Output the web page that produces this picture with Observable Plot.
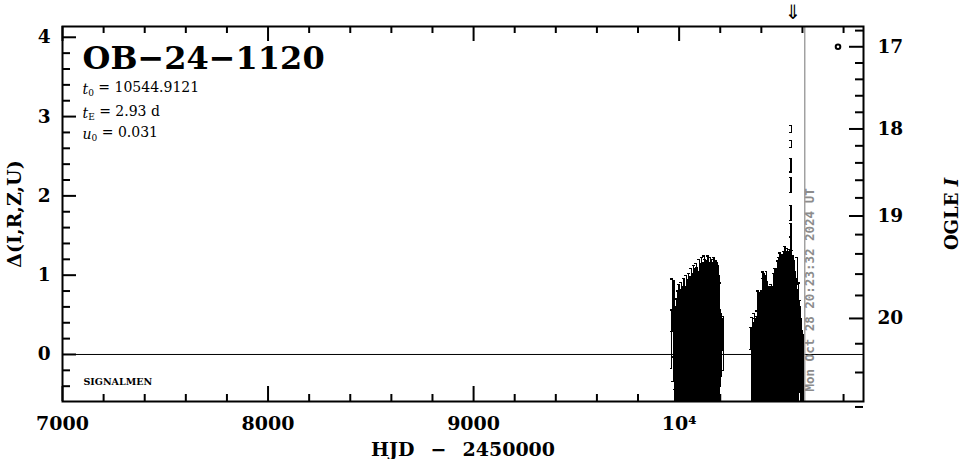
<!DOCTYPE html>
<html>
<head>
<meta charset="utf-8">
<script src="https://cdn.jsdelivr.net/npm/d3@7"></script>
<script src="https://cdn.jsdelivr.net/npm/@observablehq/plot@0.6"></script>
<style>
  html, body { margin: 0; padding: 0; background: #fff; }
</style>
</head>
<body>
<div id="chart"></div>
<script>
// ---------------- data ----------------
const eventName = "OB\u221224\u22121120";
const t0 = 10544.9121;
const tE = 2.93;
const u0 = 0.031;
const nowHJD = 10611.35;
const nowLabel = "Mon Oct 28 20:23:32 2024 UT";
const survey = "SIGNALMEN";

const xMajorTicks = [7000, 8000, 9000, 10000];
const xMinorTicks = [7200, 7400, 7600, 7800, 8200, 8400, 8600, 8800, 9200, 9400, 9600, 9800, 10200, 10400, 10600, 10800];
const yMajorTicks = [0, 1, 2, 3, 4];
const yMinorTicks = [-0.4, -0.2, 0.2, 0.4, 0.6, 0.8, 1.2, 1.4, 1.6, 1.8, 2.2, 2.4, 2.6, 2.8, 3.2, 3.4, 3.6, 3.8];
const magMajorTicks = [17, 18, 19, 20];
const magMinorTicks = [16.8, 17.2, 17.4, 17.6, 17.8, 18.2, 18.4, 18.6, 18.8, 19.2, 19.4, 19.6, 19.8, 20.2, 20.4, 20.6];

// OGLE magnitude <-> delta (source + blend flux, relative to I = 20)
const magRef = 20, fluxSource = 0.435, fluxBlend = 0.339;
const magToDelta = m => 2.5 * Math.log10((Math.pow(10, -0.4 * (m - magRef)) - fluxBlend) / fluxSource);
const deltaToMag = d => magRef - 2.5 * Math.log10(fluxBlend + fluxSource * Math.pow(10, 0.4 * d));

const legendMark = [{hjd: 10773, mag: 17}];

// observations: HJD-2450000, delta, error
const obsHJD = [
  9963, 9967, 9971, 9975, 9978, 9981, 9984, 9987, 9990, 9993, 9996, 9999, 10002, 10005, 10008, 10011, 10014, 10017, 10020, 10023,
  10026, 10029, 10032, 10035, 10038, 10041, 10044, 10047, 10050, 10053, 10056, 10059, 10062, 10065, 10068, 10071, 10074, 10077, 10080, 10083,
  10086, 10089, 10092, 10095, 10098, 10101, 10104, 10107, 10110, 10113, 10116, 10119, 10122, 10125, 10128, 10131, 10134, 10137, 10140, 10143,
  10146, 10149, 10152, 10155, 10158, 10161, 10164, 10167, 10170, 10173, 10176, 10179, 10182, 10185, 10188, 10191, 10194, 10198, 10201, 10205,
  10210, 10215,
  10350, 10353, 10356, 10359, 10362, 10365, 10368, 10371, 10374, 10377, 10380, 10383, 10386, 10389, 10392, 10395, 10398, 10401, 10404, 10407,
  10410, 10413, 10416, 10419, 10422, 10425, 10428, 10431, 10434, 10437, 10440, 10443, 10446, 10449, 10452, 10455, 10458, 10461, 10464, 10467,
  10470, 10473, 10476, 10479, 10482, 10485, 10488, 10491, 10494, 10497, 10500, 10503, 10506, 10509, 10512, 10515, 10518, 10521, 10524, 10527,
  10530, 10533, 10536, 10539, 10542, 10548, 10551, 10554, 10557, 10560, 10563, 10566, 10569, 10572, 10575, 10578, 10582, 10586, 10590, 10595,
  10600, 10604,
  10544.35, 10544.55, 10544.7, 10544.85, 10545.0, 10545.15, 10545.3
];
const obsDelta = [
  0.19, 0.62, 0.03, 0.45, -0.28, 0.08, -0.15, 0.03, 0.08, 0.05, -0.12, 0.09, -0.09, 0.01, 0.23, 0.08, -0.03, 0.03, -0.01, 0.13,
  -0.06, 0.09, -0.04, 0.15, 0.01, 0.11, 0.04, 0.12, 0.07, 0.08, 0.03, 0.19, 0.05, 0.15, 0.06, 0.21, 0.05, 0.18, 0.07, 0.23,
  0.12, 0.19, 0.08, 0.17, 0.23, 0.08, 0.23, 0.16, 0.22, 0.16, 0.18, 0.18, 0.24, 0.14, 0.19, 0.16, 0.24, 0.11, 0.26, 0.15,
  0.23, 0.14, 0.25, 0.15, 0.25, 0.11, 0.22, 0.12, 0.26, 0.18, 0.14, 0.20, 0.18, 0.21, 0.08, 0.20, 0.15, 0.08, 0.08, 0.12,
  0.25, 0.14,
  0.20, -0.20, -0.07, -0.10, -0.13, -0.14, -0.20, -0.14, -0.19, -0.11, -0.10, 0.05, 0.20, 0.03, -0.09, 0.04, -0.05, 0.04, 0.03, 0.17,
  0.08, 0.15, 0.08, 0.15, 0.07, 0.17, 0.09, 0.05, -0.03, 0.06, 0.01, 0.08, -0.01, 0.08, 0.25, 0.08, 0.02, 0.15, 0.10, 0.19,
  0.07, 0.18, 0.12, 0.24, 0.11, 0.25, 0.15, 0.29, 0.14, 0.26, 0.16, 0.28, 0.16, 0.29, 0.20, 0.33, 0.18, 0.29, 0.19, 0.32,
  0.20, 0.29, 0.20, 0.31, 0.23, 0.30, 0.19, 0.28, 0.14, 0.23, 0.12, 0.17, 0.04, 0.12, 1.05, 0.04, 0.10, 0.10, -0.08, -0.13,
  -0.21, -0.28,
  1.40, 1.565, 1.785, 2.135, 2.385, 2.655, 2.845
];
const obsErr = [
  0.37, 0.33, 0.37, 0.48, 0.43, 0.52, 0.65, 0.67, 0.38, 0.75, 0.74, 0.79, 0.67, 0.81, 0.43, 0.83, 0.67, 0.83, 0.71, 0.83,
  0.80, 0.77, 0.72, 0.85, 0.81, 0.83, 0.74, 0.90, 0.77, 0.90, 0.78, 0.89, 0.85, 0.87, 0.81, 0.91, 0.90, 0.90, 0.85, 0.92,
  0.88, 0.91, 0.88, 0.87, 0.97, 0.90, 0.92, 0.90, 1.00, 0.86, 0.98, 0.90, 1.00, 0.84, 1.01, 0.90, 0.94, 0.89, 0.98, 0.95,
  0.93, 0.88, 0.97, 0.93, 0.95, 0.87, 0.94, 0.92, 0.96, 0.92, 0.86, 0.98, 0.88, 0.95, 0.88, 0.92, 0.85, 0.82, 0.48, 0.40,
  0.20, 0.34,
  0.14, 0.50, 0.54, 0.30, 0.53, 0.66, 0.50, 0.59, 0.59, 0.59, 0.65, 0.75, 0.40, 0.75, 0.67, 0.74, 0.73, 0.76, 0.78, 0.87,
  0.88, 0.87, 0.82, 0.85, 0.87, 0.88, 0.83, 0.75, 0.75, 0.78, 0.75, 0.78, 0.79, 0.80, 0.55, 0.78, 0.80, 0.87, 0.86, 0.89,
  0.87, 0.90, 0.86, 0.94, 0.89, 0.97, 0.89, 0.99, 0.94, 0.98, 0.90, 0.98, 0.94, 1.01, 0.94, 1.03, 0.98, 1.01, 0.93, 1.02,
  0.98, 1.01, 0.94, 1.01, 0.99, 1.01, 0.93, 0.97, 0.92, 0.95, 0.86, 0.87, 0.84, 0.84, 0.17, 0.78, 0.80, 0.58, 0.68, 0.58,
  0.51, 0.53,
  0.08, 0.085, 0.095, 0.095, 0.085, 0.045, 0.045
];

// ---------------- chart ----------------
const obs = obsHJD.map((h, i) => ({hjd: h, delta: obsDelta[i], err: obsErr[i]}));
const capHalf = 7; // days

const params = [
  {sym: "t", sub: "0", val: String(t0)},
  {sym: "t", sub: "E", val: `${tE} d`},
  {sym: "u", sub: "0", val: String(u0)}
];
const paramBaselines = [67, 91, 112];

const serif = "'DejaVu Serif', 'Liberation Serif', serif";
const frameW = 801, frameH = 375;

const plot = Plot.plot({
  width: 966,
  height: 459,
  marginLeft: 62,
  marginRight: 103,
  marginTop: 26,
  marginBottom: 58,
  x: {domain: [7000, 10897]},
  y: {domain: [-0.593, 4.136]},
  style: {fontFamily: serif, background: "#fff", color: "#000", overflow: "visible"},
  marks: [
    Plot.ruleY([0], {stroke: "#000", strokeWidth: 1}),
    Plot.ruleX([nowHJD], {x: d => d, stroke: "#8c8c8c", strokeWidth: 1.2}),
    // error bars
    Plot.ruleX(obs, {x: "hjd", y1: d => d.delta - d.err, y2: d => d.delta + d.err, stroke: "#000", strokeWidth: 1.3,
      shapeRendering: "crispEdges", clip: true}),
    Plot.ruleY(obs, {y: d => d.delta + d.err, x1: d => d.hjd - capHalf, x2: d => d.hjd + capHalf, stroke: "#000", strokeWidth: 1.3,
      shapeRendering: "crispEdges", clip: true}),
    Plot.ruleY(obs, {y: d => d.delta - d.err, x1: d => d.hjd - capHalf, x2: d => d.hjd + capHalf, stroke: "#000", strokeWidth: 1.3,
      shapeRendering: "crispEdges", clip: true}),
    Plot.dot(legendMark, {x: "hjd", y: d => magToDelta(d.mag), r: 2.3, stroke: "#000", strokeWidth: 2, fill: "#fff"}),
    Plot.frame({stroke: "#000", strokeWidth: 2}),
    // bottom & top ticks
    Plot.tickX(xMajorTicks, {x: d => d, insetTop: frameH - 15, stroke: "#000", strokeWidth: 2}),
    Plot.tickX(xMinorTicks, {x: d => d, insetTop: frameH - 7, stroke: "#000", strokeWidth: 2}),
    Plot.tickX(xMajorTicks, {x: d => d, insetBottom: frameH - 15, stroke: "#000", strokeWidth: 2}),
    Plot.tickX(xMinorTicks, {x: d => d, insetBottom: frameH - 7, stroke: "#000", strokeWidth: 2}),
    // left ticks
    Plot.tickY(yMajorTicks, {y: d => d, insetRight: frameW - 14, stroke: "#000", strokeWidth: 2}),
    Plot.tickY(yMinorTicks, {y: d => d, insetRight: frameW - 8, stroke: "#000", strokeWidth: 2}),
    // right (magnitude) ticks
    Plot.tickY(magMajorTicks, {y: magToDelta, insetLeft: frameW - 14, stroke: "#000", strokeWidth: 2}),
    Plot.tickY(magMinorTicks, {y: magToDelta, insetLeft: frameW - 8, stroke: "#000", strokeWidth: 2}),
    // tick labels
    Plot.axisX({ticks: xMajorTicks, tickSize: 0, tickPadding: 15, tickFormat: d => d === 10000 ? "10\u2074" : String(d),
      fontSize: 19, fontWeight: "bold", fontFamily: serif, label: null}),
    Plot.axisY({ticks: yMajorTicks, tickSize: 0, tickPadding: 12, tickFormat: d => String(d),
      fontSize: 18.5, fontWeight: "bold", fontFamily: serif, label: null}),
    Plot.axisY({anchor: "right", ticks: magMajorTicks.map(magToDelta), tickSize: 0, tickPadding: 14,
      tickFormat: d => String(Math.round(deltaToMag(d))), fontSize: 18.5, fontWeight: "bold", fontFamily: serif, label: null}),
    // axis titles
    Plot.text(["HJD \u2002\u2212\u2002 2450000"], {frameAnchor: "bottom", dy: 54, lineAnchor: "bottom", textAnchor: "middle",
      fontSize: 19, fontWeight: "bold", fontFamily: serif}),
    Plot.text(["\u0394(I,R,Z,U)"], {frameAnchor: "left", dx: -48, rotate: -90, textAnchor: "middle",
      fontSize: 19, fontWeight: "bold", fontFamily: serif}),
    Plot.text(["OGLE I"], {frameAnchor: "right", dx: 89, rotate: -90, textAnchor: "middle",
      fontSize: 18, fontWeight: "bold", fontFamily: serif}),
    // event name and parameters
    Plot.text([eventName], {frameAnchor: "top-left", dx: 20, dy: 42, lineAnchor: "bottom", textAnchor: "start",
      fontSize: 32, fontWeight: "bold", fontFamily: serif}),
    ...params.map((p, i) => Plot.text([p], {frameAnchor: "top-left", dx: 20, dy: paramBaselines[i], lineAnchor: "bottom",
      textAnchor: "start", text: d => `${d.sym}${d.sub} = ${d.val}`, fontSize: 14, fontFamily: serif})),
    Plot.text([survey], {frameAnchor: "bottom-left", dx: 21, dy: -17, lineAnchor: "bottom", textAnchor: "start",
      fontSize: 9.5, fontWeight: "bold", fontFamily: serif}),
    // peak arrow
    Plot.text([t0], {x: d => d, text: () => "\u21d3", frameAnchor: "top", dy: -8, dx: 2, lineAnchor: "bottom",
      fontSize: 20, fontFamily: "'DejaVu Sans', sans-serif"}),
    // current-time label
    Plot.text([nowLabel], {x: () => nowHJD, frameAnchor: "bottom", rotate: -90, textAnchor: "start", dx: 9, dy: -10,
      fill: "#8c8c8c", fontSize: 12.5, fontWeight: "bold", fontFamily: "'DejaVu Sans Mono', monospace"})
  ]
});

document.getElementById("chart").appendChild(plot);

// subscripts / italics as real text
const svg = d3.select(plot);
const paramStrings = new Map(params.map(p => [`${p.sym}${p.sub} = ${p.val}`, p]));
svg.selectAll("text").each(function () {
  const s = this.textContent;
  const el = d3.select(this);
  if (paramStrings.has(s)) {
    const p = paramStrings.get(s);
    el.text(null);
    el.append("tspan").attr("font-style", "italic").text(p.sym);
    el.append("tspan").attr("dy", "0.3em").attr("font-size", 9).text(p.sub);
    el.append("tspan").attr("dy", "-0.3em").text("\u00a0= " + p.val);
  } else if (s === "OGLE I") {
    el.text(null);
    el.append("tspan").text("OGLE ");
    el.append("tspan").attr("font-style", "italic").text("I");
  }
});
</script>
</body>
</html>
